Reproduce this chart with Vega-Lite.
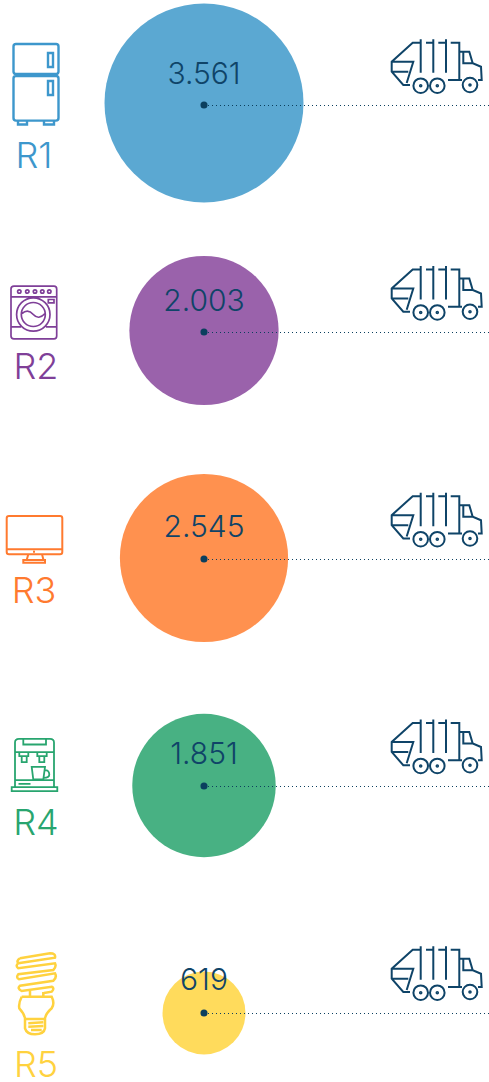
{
"$schema":"https://vega.github.io/schema/vega-lite/v6.json",
"width":489,"height":1082,"autosize":"none","padding":0,
"background":"#ffffff",
"config":{"view":{"stroke":null}},
"data":{"values":[
{"region":"R1","value":3561,"label":"3.561"},
{"region":"R2","value":2003,"label":"2.003"},
{"region":"R3","value":2545,"label":"2.545"},
{"region":"R4","value":1851,"label":"1.851"},
{"region":"R5","value":619,"label":"619"}
]},
"resolve":{"scale":{"y":"independent","size":"independent"}},
"encoding":{
"y":{"field":"region","type":"ordinal","scale":{"type":"point","padding":0,"domain":["R1","R2","R3","R4","R5"],"range":[103,1013]},"axis":null}
},
"layer":[
{"mark":{"type":"circle","opacity":1},
 "encoding":{
 "x":{"datum":204,"type":"quantitative","scale":{"domain":[0,489],"range":[0,489],"nice":false,"zero":false},"axis":null},
 "size":{"field":"value","type":"quantitative","scale":{"domain":[0,3561],"range":[0,39600]},"legend":null},
 "color":{"field":"region","type":"nominal","scale":{"domain":["R1","R2","R3","R4","R5"],"range":["#5BA8D2","#9A62AB","#FF914F","#48B183","#FFDB5C"]},"legend":null}
 }},
{"mark":{"type":"rule","stroke":"#0B3F5E","strokeWidth":1,"strokeDash":[1,3]},
 "encoding":{
 "x":{"datum":204,"type":"quantitative"},"x2":{"datum":489},
 "y":{"field":"region","type":"ordinal","scale":{"type":"point","padding":0,"domain":["R1","R2","R3","R4","R5"],"range":[105.5,1013.5]},"axis":null}
 }},
{"mark":{"type":"circle","opacity":1,"color":"#0B3F5E","size":50},
 "encoding":{
 "x":{"datum":204,"type":"quantitative"},
 "y":{"field":"region","type":"ordinal","scale":{"type":"point","padding":0,"domain":["R1","R2","R3","R4","R5"],"range":[105,1013]},"axis":null}
 }},
{"mark":{"type":"text","font":"Inter","fontWeight":300,"fontSize":30,"color":"#0F4468","align":"center","baseline":"middle"},
 "encoding":{
 "x":{"datum":204,"type":"quantitative"},
 "y":{"field":"region","type":"ordinal","scale":{"type":"point","padding":0,"domain":["R1","R2","R3","R4","R5"],"range":[75,981]},"axis":null},
 "text":{"field":"label","type":"nominal"}
 }},
{"mark":{"type":"point","filled":false,"opacity":1,"size":4,"stroke":"#0F4468","strokeWidth":2,
 "shape":"M-17,-60.3H-24.3L-45.3,-41.3V-31.3L-33.7,-18H-27M-45.3,-41.3H-23.7L-30.3,-20M-45.3,-31.3H-28.7M-16.3,-63.7V-30.3M-3.7,-63.7V-30.3M9,-63.7V-30.3M-11,-60.3H-3.7M1.3,-60.3H9M13.7,-60.3H22.3V-23H11M23,-51.3H32.3L35.7,-39.7L44,-36.3L44.7,-23H41M26.3,-51.3V-39.7H35.7M23,-23H25M-9,-17.3A7.3,7.3 0 1 0 -23.6,-17.3A7.3,7.3 0 1 0 -9,-17.3M7.6,-17.3A7.3,7.3 0 1 0 -7,-17.3A7.3,7.3 0 1 0 7.6,-17.3M40.3,-18A7.3,7.3 0 1 0 25.7,-18A7.3,7.3 0 1 0 40.3,-18M-15.5,-17.3A0.8,0.8 0 1 0 -17.1,-17.3A0.8,0.8 0 1 0 -15.5,-17.3M1.1,-17.3A0.8,0.8 0 1 0 -0.5,-17.3A0.8,0.8 0 1 0 1.1,-17.3M33.8,-18A0.8,0.8 0 1 0 32.2,-18A0.8,0.8 0 1 0 33.8,-18"},
 "encoding":{
 "x":{"datum":437,"type":"quantitative"},
 "y":{"field":"region","type":"ordinal","scale":{"type":"point","padding":0,"domain":["R1","R2","R3","R4","R5"],"range":[103,1010]},"axis":null}
 }},
{"transform":[{"filter":"datum.region==='R1'"}],
 "mark":{"type":"point","filled":false,"opacity":1,"size":4,"stroke":"#3D97CC","strokeWidth":2.4,
 "shape":"M-20,-59H20Q22.5,-59 22.5,-56.5V-31.5Q22.5,-29 20,-29H-20Q-22.5,-29 -22.5,-31.5V-56.5Q-22.5,-59 -20,-59ZM-20,-27H20Q22.5,-27 22.5,-24.5V15Q22.5,17.6 20,17.6H-20Q-22.5,17.6 -22.5,15V-24.5Q-22.5,-27 -20,-27ZM12,-50H17V-36H12ZM12,-22H17V-8H12ZM-18,18V21.5H-9V18M8,18V21.5H18V18"},
 "encoding":{"x":{"datum":36,"type":"quantitative"}}},
{"transform":[{"filter":"datum.region==='R2'"}],
 "mark":{"type":"point","filled":false,"opacity":1,"size":4,"stroke":"#7F3F98","strokeWidth":1.7,
 "shape":"M-22,-44.3H18Q20.7,-44.3 20.7,-41.5V5.5Q20.7,8.3 18,8.3H-22Q-25,8.3 -25,5.5V-41.5Q-25,-44.3 -22,-44.3ZM-25,-33.7H20.7M-15,-39A1.7,1.7 0 1 0 -18.4,-39A1.7,1.7 0 1 0 -15,-39M-7,-39A1.7,1.7 0 1 0 -10.4,-39A1.7,1.7 0 1 0 -7,-39M0.7,-39A1.7,1.7 0 1 0 -2.7,-39A1.7,1.7 0 1 0 0.7,-39M8,-39A1.7,1.7 0 1 0 4.6,-39A1.7,1.7 0 1 0 8,-39M15,-39A1.7,1.7 0 1 0 11.6,-39A1.7,1.7 0 1 0 15,-39M12.3,-31H18V-27.7H12.3ZM14,-16A16.7,16.7 0 1 0 -19.4,-16A16.7,16.7 0 1 0 14,-16M9.3,-16A12,12 0 1 0 -14.7,-16A12,12 0 1 0 9.3,-16M-14,-17Q-8,-22 -2.7,-16T9,-17M-25,-3.7H-15M10,-3.7H20.7"},
 "encoding":{"x":{"datum":36,"type":"quantitative"}}},
{"transform":[{"filter":"datum.region==='R3'"}],
 "mark":{"type":"point","filled":false,"opacity":1,"size":4,"stroke":"#FF7A2F","strokeWidth":2,
 "shape":"M-27,-42H24Q26.3,-42 26.3,-39.7V-6Q26.3,-3.7 24,-3.7H-27Q-29.3,-3.7 -29.3,-6V-39.7Q-29.3,-42 -27,-42ZM-29.3,-8.7H26.3M-7.7,-3.7L-9.3,2M6,-3.7L7.5,2M-12.7,2H9V4.7H-12.7ZM-3,-6.2H-1"},
 "encoding":{"x":{"datum":36,"type":"quantitative"}}},
{"transform":[{"filter":"datum.region==='R4'"}],
 "mark":{"type":"point","filled":false,"opacity":1,"size":4,"stroke":"#28A56F","strokeWidth":1.8,
 "shape":"M-21,2V-43Q-21,-46.7 -17,-46.7H14Q18,-46.7 18,-43V2M-12.7,-46V-41H10V-46M-21,-33.3H18M-16.7,-32.7V-29.3H-7.7V-32.7M-14.3,-29.3V-23.3H-9.3V-29.3M1.3,-32.7V-29.3H10.7V-32.7M3.3,-29.3V-23.3H8.3V-29.3M-4.3,-18.7H9L7.3,-6H-2.7ZM9,-15.3Q13.3,-15.3 13.3,-11Q13.3,-7.7 8,-7.7M-21,-5.3H18M-24.3,1.7H21.3V5.7H-24.3ZM-17.5,-1.7H-5.5"},
 "encoding":{"x":{"datum":36,"type":"quantitative"}}},
{"transform":[{"filter":"datum.region==='R5'"}],
 "mark":{"type":"point","filled":false,"opacity":1,"size":4,"stroke":"#FFD23F","strokeWidth":2.5,
 "shape":"M-16,-54.7L14,-59.7Q20,-59.7 19,-55.3L-17.7,-49.7Q-21,-47.3 -17.7,-44.7L19,-49.7Q20.7,-46.3 17.3,-43L-17.7,-38.7Q-20.3,-35.7 -17,-33.7L19,-39.7Q21.3,-35.7 17.3,-32.3L-16,-27.3Q-19.3,-24.7 -14.3,-22L15.7,-26.3Q19,-24.7 15.7,-21.3L8,-20M-16,-54.7Q-20,-52 -17.7,-49.7M-14.3,-16.3H15.7Q19,-9.7 15.7,-4.7Q10,0.3 9,5.3V15.3Q8,21.3 -1,21.3Q-9.3,21.3 -11,15.3V5.3Q-12,0.3 -16.7,-4.7Q-17.7,-9.7 -14.3,-16.3M-6,-22V-16.3M7.3,-21V-16.3M-10,6H8M-7.7,10.3L7.3,9.3M-7.7,13.7L7.3,13M-5,17H5.7"},
 "encoding":{"x":{"datum":36,"type":"quantitative"}}},
{"transform":[{"filter":"datum.region==='R1'"}],
 "mark":{"type":"text","font":"Inter","fontWeight":300,"fontSize":36,"color":"#3D97CC","align":"center","baseline":"middle","dy":54},
 "encoding":{"x":{"datum":34,"type":"quantitative"},"text":{"field":"region","type":"nominal"}}},
{"transform":[{"filter":"datum.region==='R2'"}],
 "mark":{"type":"text","font":"Inter","fontWeight":300,"fontSize":36,"color":"#7F3F98","align":"center","baseline":"middle","dy":37},
 "encoding":{"x":{"datum":36,"type":"quantitative"},"text":{"field":"region","type":"nominal"}}},
{"transform":[{"filter":"datum.region==='R3'"}],
 "mark":{"type":"text","font":"Inter","fontWeight":300,"fontSize":36,"color":"#FF7A2F","align":"center","baseline":"middle","dy":34},
 "encoding":{"x":{"datum":34,"type":"quantitative"},"text":{"field":"region","type":"nominal"}}},
{"transform":[{"filter":"datum.region==='R4'"}],
 "mark":{"type":"text","font":"Inter","fontWeight":300,"fontSize":36,"color":"#28A56F","align":"center","baseline":"middle","dy":38},
 "encoding":{"x":{"datum":36,"type":"quantitative"},"text":{"field":"region","type":"nominal"}}},
{"transform":[{"filter":"datum.region==='R5'"}],
 "mark":{"type":"text","font":"Inter","fontWeight":300,"fontSize":36,"color":"#FFD23F","align":"center","baseline":"middle","dy":53},
 "encoding":{"x":{"datum":36,"type":"quantitative"},"text":{"field":"region","type":"nominal"}}}
]
}
